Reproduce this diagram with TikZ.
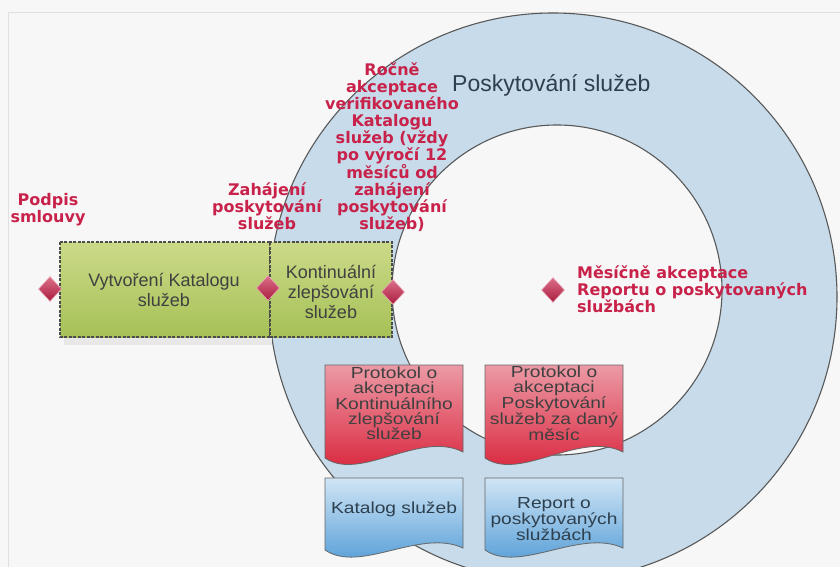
\documentclass[tikz,border=0pt]{standalone}
\usepackage{fontspec}
\setmainfont{Liberation Sans}
\newfontfamily\markfont{DejaVu Sans}
\newfontfamily\docfont[FakeStretch=1.2]{Liberation Sans}
\usepackage{tikz}
\usetikzlibrary{positioning,shapes.geometric}
\definecolor{paper}{HTML}{F7F7F7}
\definecolor{ringblue}{HTML}{C7DBEA}
\definecolor{labelred}{HTML}{C8224A}
\definecolor{slate}{HTML}{2E3F4E}
\definecolor{greentop}{HTML}{CBDA88}
\definecolor{greenbot}{HTML}{A6C157}
\definecolor{redtop}{HTML}{EC9AA6}
\definecolor{redmid}{HTML}{E02C44}
\definecolor{redbot}{HTML}{D81A32}
\definecolor{bluetop}{HTML}{D0E5F5}
\definecolor{bluebot}{HTML}{4896D4}

\begin{document}
\begin{tikzpicture}[x=1pt,y=-1pt,
	ringline/.style={draw=black!65,line width=1.1pt},
	phasebox/.style={draw=black!70,dash pattern=on 3pt off 1.5pt,line width=1.2pt,top color=greentop,bottom color=greenbot},
	phasetext/.style={text=black!75,font=\fontsize{18}{20}\selectfont,align=center,inner sep=0pt},
	milestone/.style={diamond,minimum width=23pt,minimum height=25pt,inner sep=0pt,draw=white!60!labelred,line width=0.6pt,top color=labelred!65!white,bottom color=labelred!85!black},
	redlabel/.style={text=labelred,font=\markfont\bfseries\fontsize{16}{17}\selectfont,align=center,inner sep=0pt},
	redsheet/.style={draw=black!60,line width=0.8pt,top color=redtop,middle color=redmid,bottom color=redbot},
	bluesheet/.style={draw=black!60,line width=0.8pt,top color=bluetop,bottom color=bluebot},
	sheettext/.style={text=black!75,font=\docfont\fontsize{16}{15}\selectfont,align=center,inner sep=0pt}]
	\useasboundingbox (0,0) rectangle (840,567);
	\fill[paper] (0,0) rectangle (840,567);
	\draw[black!12,line width=1pt] (8,567) -- (8,13) -- (840,13);

	% ring
	\fill[ringblue,even odd rule] (553,297) circle (284pt) (557,290) circle (165pt);
	\draw[ringline] (553,297) circle (284pt);
	\draw[ringline] (557,290) circle (165pt);
	\node[text=slate,font=\fontsize{23}{25}\selectfont,anchor=base west,inner sep=0pt] (ring) at (452,92) {Poskytování služeb};

	% phases
	\fill[black!9] (64,338) rectangle (272,345);
	\draw[phasebox] (60,242) rectangle (270,337);
	\draw[phasebox] (270,242) rectangle (392,337);
	\node[phasetext] (katalog) at (164,290) {Vytvoření Katalogu\\služeb};
	\node[phasetext] (zlepseni) at (331,292) {Kontinuální\\zlepšování\\služeb};

	% milestones
	\node[milestone] (m1) at (50,289) {};
	\node[milestone] (m2) at (268,288) {};
	\node[milestone] (m3) at (393,292) {};
	\node[milestone] (m4) at (553,290) {};
	\node[redlabel] (podpis) at (48,210) {Podpis\\smlouvy};
	\node[redlabel] (zahajeni) at (267,206) {Zahájení\\poskytování\\služeb};
	\node[redlabel] (rocne) at (392,147) {Ročně\\akceptace\\verifikovaného\\Katalogu\\služeb (vždy\\po výročí 12\\měsíců od\\zahájení\\poskytování\\služeb)};
	\node[redlabel,align=left,anchor=west] (mesicne) at (577,289) {Měsíčně akceptace\\Reportu o poskytovaných\\službách};

	% documents
	\path[redsheet] (325,365) -- (463,365) -- (463,452) .. controls (420,430) and (360,482) .. (325,458) -- cycle;
	\path[redsheet] (485,365) -- (623,365) -- (623,452) .. controls (580,430) and (520,482) .. (485,458) -- cycle;
	\path[bluesheet] (325,478) -- (463,478) -- (463,548) .. controls (420,528) and (360,574) .. (325,550) -- cycle;
	\path[bluesheet] (485,478) -- (623,478) -- (623,548) .. controls (580,528) and (520,574) .. (485,550) -- cycle;
	\node[sheettext] (protokol1) at (394,403) {Protokol o\\akceptaci\\Kontinuálního\\zlepšování\\služeb};
	\node[sheettext] (protokol2) at (554,403) {Protokol o\\akceptaci\\Poskytování\\služeb za daný\\měsíc};
	\node[sheettext,text=slate,anchor=base] (katdoc) at (394,513) {Katalog služeb};
	\node[sheettext,text=slate] (report) at (554,519) {Report o\\poskytovaných\\službách};
\end{tikzpicture}
\end{document}
